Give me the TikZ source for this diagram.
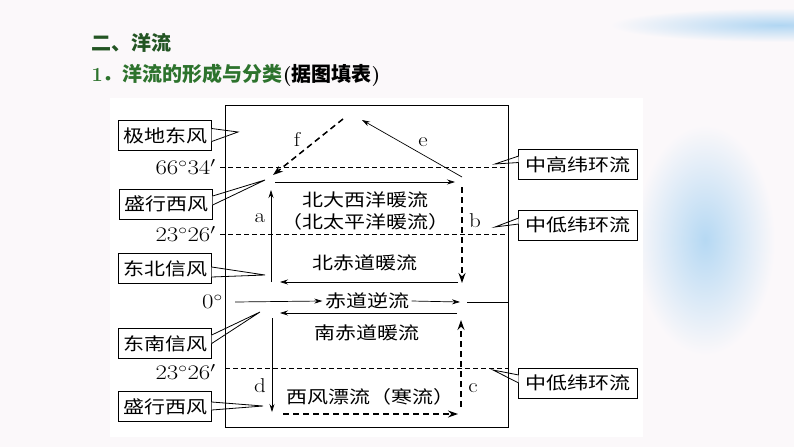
\documentclass[tikz,border=0pt]{standalone}
\usepackage{fontspec}
\newfontfamily\cjk{Noto Sans CJK SC}
\usetikzlibrary{arrows.meta}
\definecolor{titlegreen}{RGB}{35,85,35}
\definecolor{subgreen}{RGB}{45,115,45}
\definecolor{snow}{RGB}{150,200,238}
\definecolor{paper}{RGB}{251,248,250}

\tikzset{
  wind/.style={draw, line width=0.8pt, fill=white, inner sep=0pt, minimum width=78pt, minimum height=30pt, font=\cjk\fontsize{17.5}{17.5}\selectfont, xscale=1.2},
  belt/.style={wind, minimum width=99pt},
  wedge/.style={draw, fill=white, line width=0.8pt},
  lat/.style={font=\fontsize{20}{20}\selectfont, xscale=1.2, anchor=east, inner sep=0pt},
  cur/.style={font=\cjk\fontsize{17.5}{17.5}\selectfont, xscale=1.2, inner sep=2pt},
  tag/.style={font=\fontsize{20}{20}\selectfont, xscale=1.15, inner sep=0pt},
  parallel/.style={dash pattern=on 5pt off 3pt, line width=0.7pt},
  warm/.style={-{Stealth[length=8pt, width=5pt]}, line width=0.7pt},
  cold/.style={-{Stealth[length=10pt, width=7pt]}, line width=1.5pt, dash pattern=on 6pt off 4pt},
}

\begin{document}
\begin{tikzpicture}[x=1pt, y=-1pt]
\useasboundingbox (0,0) rectangle (794,447);

\fill[paper] (0,0) rectangle (794,447);
\shade[inner color=snow!70, outer color=paper] (705,240) ellipse (70 and 115);
\shade[inner color=snow!75, outer color=paper] (780,25) ellipse (170 and 17);
\fill[white] (110,98) rectangle (643,437);

\node[anchor=west, text=titlegreen, font=\cjk\bfseries\fontsize{20}{20}\selectfont] (head) at (88,43) {二、洋流};
\node[anchor=west, text=subgreen, font=\cjk\bfseries\fontsize{20}{20}\selectfont] (sub) at (88,75) {{\rmfamily\bfseries 1}．洋流的形成与分类{\color{black}{\rmfamily\bfseries(}据图填表{\rmfamily\bfseries)}}};

\node[wind] (polar) at (165,135.5) {极地东风};
\node[wind] (west1) at (166,204) {盛行西风};
\node[wind] (ne) at (165,268.5) {东北信风};
\node[wind] (se) at (165,343.5) {东南信风};
\node[wind] (west2) at (165,406.5) {盛行西风};

\node[belt] (belt1) at (578,164.5) {中高纬环流};
\node[belt] (belt2) at (578,225) {中低纬环流};
\node[belt] (belt3) at (578,383) {中低纬环流};

\coordinate (pPolar) at (238,132);
\coordinate (pWest1) at (265,180);
\coordinate (pNe) at (265,275);
\coordinate (pSe) at (260,312);
\coordinate (pWest2) at (263,406);
\coordinate (pBelt1) at (495,164);
\coordinate (pBelt2) at (495,227);
\coordinate (pBelt3) at (493,370);

\draw[wedge] ([xshift=-0.6pt, yshift=7pt]polar.east) -- (pPolar) -- ([xshift=-0.6pt, yshift=-6pt]polar.east);
\draw[wedge] ([xshift=-0.6pt, yshift=8pt]west1.east) -- (pWest1) -- ([xshift=-0.6pt, yshift=-1pt]west1.east);
\draw[wedge] ([xshift=-0.6pt, yshift=1.5pt]ne.east) -- (pNe) -- ([xshift=-0.6pt, yshift=-8.5pt]ne.east);
\draw[wedge] ([xshift=-0.6pt, yshift=8.5pt]se.east) -- (pSe) -- ([xshift=-0.6pt, yshift=0pt]se.east);
\draw[wedge] ([xshift=-0.6pt, yshift=4.5pt]west2.east) -- (pWest2) -- ([xshift=-0.6pt, yshift=-3.5pt]west2.east);
\draw[wedge] ([xshift=0.6pt, yshift=8.5pt]belt1.west) -- (pBelt1) -- ([xshift=0.6pt, yshift=2pt]belt1.west);
\draw[wedge] ([xshift=0.6pt, yshift=7pt]belt2.west) -- (pBelt2) -- ([xshift=0.6pt, yshift=1pt]belt2.west);
\draw[wedge] ([xshift=0.6pt, yshift=8pt]belt3.west) -- (pBelt3) -- ([xshift=0.6pt, yshift=0pt]belt3.west);

\node[draw, line width=0.9pt, minimum width=283pt, minimum height=322pt, inner sep=0pt] (frame) at (366.5,266) {};

\coordinate (l66) at (220,167);
\coordinate (l23n) at (220,234);
\coordinate (l23s) at (225,368);
\draw[parallel] (l66) -- (frame.east |- l66);
\draw[parallel] (l23n) -- (frame.east |- l23n);
\draw[parallel] (l23s) -- (frame.east |- l23s);

\node[lat] (t66) at (216,167) {$66^{\circ}34'$};
\node[lat] (t23n) at (216,234) {$23^{\circ}26'$};
\node[lat] (t0) at (223,302) {$0^{\circ}$};
\node[lat] (t23s) at (216,372) {$23^{\circ}26'$};

\coordinate (f0) at (343,119); \coordinate (f1) at (273,175);
\coordinate (e0) at (462,177); \coordinate (e1) at (362,120);
\coordinate (n0) at (275,182); \coordinate (n1) at (455,182);
\coordinate (a0) at (271,282); \coordinate (a1) at (271,190);
\coordinate (b0) at (462,187); \coordinate (b1) at (462,283);
\coordinate (ne0) at (458,282); \coordinate (ne1) at (280,282);
\coordinate (q0) at (235,302); \coordinate (q1) at (460,302); \coordinate (q2) at (467,302);
\coordinate (se0) at (457,313); \coordinate (se1) at (280,313);
\coordinate (d0) at (272,318); \coordinate (d1) at (272,412);
\coordinate (c0) at (461,407); \coordinate (c1) at (461,320);
\coordinate (w0) at (283,414); \coordinate (w1) at (458,414);

\node[cur] (natl) at (365,200) {北大西洋暖流};
\node[cur] (npac) at (365,222) {（北太平洋暖流）};
\node[cur] (neq) at (365,263) {北赤道暖流};
\node[cur] (ecc) at (367,301) {赤道逆流};
\node[cur] (seq) at (367,333) {南赤道暖流};
\node[cur] (wwd) at (370,397) {西风漂流（寒流）};

\draw[cold] (f0) -- (f1);
\draw[warm] (e0) -- (e1);
\draw[warm] (n0) -- (n1);
\draw[warm] (a0) -- (a1);
\draw[cold] (b0) -- (b1);
\draw[warm] (ne0) -- (ne1);
\draw[warm] (q0) -- (ecc.west);
\draw[warm] (ecc.east) -- (q1);
\draw[line width=0.7pt] (q2) -- (frame.east |- q2);
\draw[warm] (se0) -- (se1);
\draw[warm] (d0) -- (d1);
\draw[cold] (c0) -- (c1);
\draw[cold] (w0) -- (w1);

\node[tag] (lf) at (297,139) {f};
\node[tag] (le) at (423,142) {e};
\node[tag] (la) at (260,218) {a};
\node[tag] (lb) at (475,221) {b};
\node[tag] (lc) at (473,388) {c};
\node[tag] (ld) at (260,386) {d};
\end{tikzpicture}
\end{document}
